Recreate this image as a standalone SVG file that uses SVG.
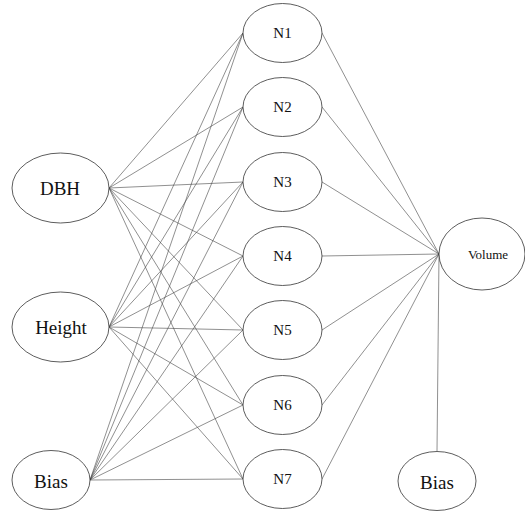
<svg xmlns="http://www.w3.org/2000/svg" width="525" height="511" viewBox="0 0 525 511">
<style>
.n ellipse{fill:#fff;stroke:#333;stroke-width:0.8}
.n text{font-family:"Liberation Serif","Times New Roman",serif;fill:#111;text-anchor:middle}
.big{font-size:19px}
.sm{font-size:15px}
.xs{font-size:13px}
#edges line{stroke:#444;stroke-width:0.6}
</style>
<rect width="525" height="511" fill="#fff"/>
<g id="edges">
<line x1="109" y1="188" x2="243" y2="33"/>
<line x1="109" y1="188" x2="243" y2="107"/>
<line x1="109" y1="188" x2="243" y2="182"/>
<line x1="109" y1="188" x2="243" y2="256"/>
<line x1="109" y1="188" x2="243" y2="330"/>
<line x1="109" y1="188" x2="243" y2="405"/>
<line x1="109" y1="188" x2="243" y2="479"/>
<line x1="109" y1="327" x2="243" y2="33"/>
<line x1="109" y1="327" x2="243" y2="107"/>
<line x1="109" y1="327" x2="243" y2="182"/>
<line x1="109" y1="327" x2="243" y2="256"/>
<line x1="109" y1="327" x2="243" y2="330"/>
<line x1="109" y1="327" x2="243" y2="405"/>
<line x1="109" y1="327" x2="243" y2="479"/>
<line x1="90" y1="480" x2="243" y2="33"/>
<line x1="90" y1="480" x2="243" y2="107"/>
<line x1="90" y1="480" x2="243" y2="182"/>
<line x1="90" y1="480" x2="243" y2="256"/>
<line x1="90" y1="480" x2="243" y2="330"/>
<line x1="90" y1="480" x2="243" y2="405"/>
<line x1="90" y1="480" x2="243" y2="479"/>
<line x1="322" y1="33" x2="439" y2="254"/>
<line x1="322" y1="107" x2="439" y2="254"/>
<line x1="322" y1="182" x2="439" y2="254"/>
<line x1="322" y1="256" x2="439" y2="254"/>
<line x1="322" y1="330" x2="439" y2="254"/>
<line x1="322" y1="405" x2="439" y2="254"/>
<line x1="322" y1="479" x2="439" y2="254"/>
<line x1="439" y1="254" x2="437" y2="451"/>
</g>
<g id="DBH" class="n"><ellipse cx="60.5" cy="188" rx="48.5" ry="35"/><text class="big" x="60" y="195">DBH</text></g>
<g id="Height" class="n"><ellipse cx="60.5" cy="327" rx="48.5" ry="35"/><text class="big" x="61" y="334">Height</text></g>
<g id="BiasIn" class="n"><ellipse cx="51" cy="480" rx="39" ry="29.5"/><text class="big" x="51" y="488">Bias</text></g>
<g id="N1" class="n"><ellipse cx="282.5" cy="33" rx="39.5" ry="29.5"/><text class="sm" x="282.5" y="38">N1</text></g>
<g id="N2" class="n"><ellipse cx="282.5" cy="107" rx="39.5" ry="29.5"/><text class="sm" x="282.5" y="112">N2</text></g>
<g id="N3" class="n"><ellipse cx="282.5" cy="182" rx="39.5" ry="29.5"/><text class="sm" x="282.5" y="187">N3</text></g>
<g id="N4" class="n"><ellipse cx="282.5" cy="256" rx="39.5" ry="29.5"/><text class="sm" x="282.5" y="261">N4</text></g>
<g id="N5" class="n"><ellipse cx="282.5" cy="330" rx="39.5" ry="29.5"/><text class="sm" x="282.5" y="335">N5</text></g>
<g id="N6" class="n"><ellipse cx="282.5" cy="405" rx="39.5" ry="29.5"/><text class="sm" x="282.5" y="410">N6</text></g>
<g id="N7" class="n"><ellipse cx="282.5" cy="479" rx="39.5" ry="29.5"/><text class="sm" x="282.5" y="484">N7</text></g>
<g id="Volume" class="n"><ellipse cx="482" cy="254" rx="43" ry="36"/><text class="xs" x="488" y="259">Volume</text></g>
<g id="BiasOut" class="n"><ellipse cx="437" cy="481" rx="39" ry="29.5"/><text class="big" x="437" y="489">Bias</text></g>
</svg>
